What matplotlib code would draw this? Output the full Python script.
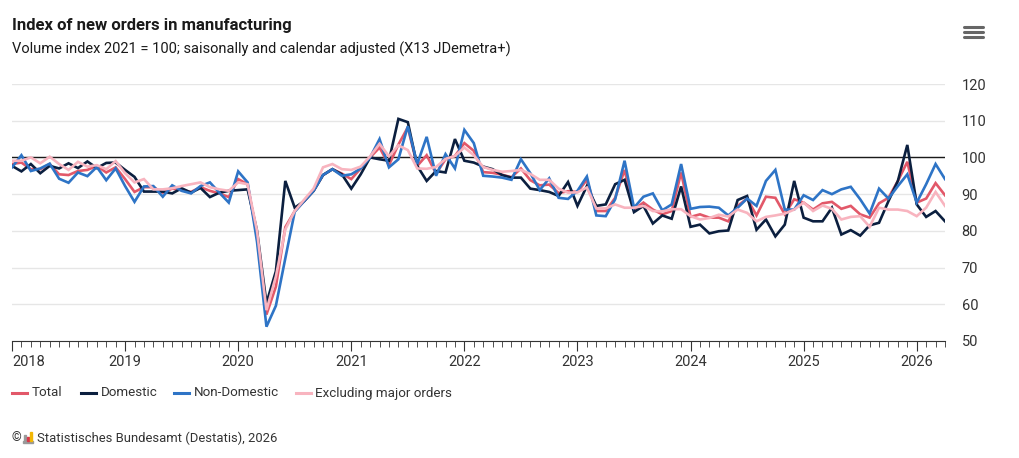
import matplotlib.pyplot as plt
import numpy as np
from matplotlib.lines import Line2D
from matplotlib.patches import Rectangle

plt.rcParams['font.family'] = ['Roboto', 'DejaVu Sans']

# monthly values, Jan 2018 .. Apr 2026 (volume index 2021 = 100)
years = ['2018', '2019', '2020', '2021', '2022', '2023', '2024', '2025', '2026']

total = [98.2, 98.6, 96.8, 96.8, 98.2, 95.4, 95.2, 96.3, 96.6, 97.7, 95.9, 97.3,
         94.1, 90.6, 91.9, 91.9, 90.4, 91.5, 91.1, 90.6, 91.9, 90.9, 90.2, 89.2,
         94.1, 92.7, 78.5, 57.2, 64.8, 81.0, 85.4, 88.1, 90.9, 95.2, 96.8, 95.6,
         94.1, 97.0, 100.0, 102.7, 97.9, 103.5, 108.2, 97.7, 100.6, 95.6, 99.5, 100.4,
         103.9, 101.8, 96.0, 95.8, 95.3, 94.6, 97.0, 93.8, 92.4, 92.6, 90.3, 90.8,
         90.6, 93.9, 85.4, 85.4, 89.0, 96.6, 85.8, 87.7, 85.8, 84.5, 85.4, 95.9,
         83.8, 84.5, 83.6, 83.6, 82.6, 86.8, 88.8, 84.2, 89.3, 89.0, 84.5, 88.6,
         87.7, 85.8, 87.5, 87.9, 86.0, 86.8, 84.5, 83.6, 87.5, 89.0, 93.6, 98.8,
         87.7, 88.8, 93.0, 89.7]

domestic = [97.7, 96.2, 98.2, 95.7, 97.7, 97.0, 98.4, 97.1, 98.9, 97.1, 98.5, 98.6,
            96.6, 94.7, 90.7, 90.7, 90.7, 90.2, 91.6, 90.4, 91.7, 89.2, 90.4, 90.9,
            91.1, 91.3, 80.0, 60.3, 69.0, 93.6, 86.3, 88.1, 90.9, 95.2, 96.8, 95.4,
            91.5, 95.4, 100.0, 99.5, 99.1, 110.5, 109.6, 97.7, 93.6, 96.3, 95.9, 105.0,
            99.1, 98.6, 97.5, 96.8, 95.2, 94.5, 94.5, 91.5, 91.1, 90.6, 89.5, 93.3,
            86.8, 92.2, 86.8, 87.2, 92.7, 93.9, 85.1, 86.8, 82.0, 84.2, 83.3, 92.1,
            81.1, 81.7, 79.3, 79.9, 80.1, 88.4, 89.5, 80.3, 83.1, 78.5, 81.7, 93.6,
            83.6, 82.6, 82.6, 86.3, 79.0, 80.2, 78.7, 81.5, 82.2, 88.1, 93.6, 103.4,
            87.2, 83.8, 85.4, 82.6]

non_domestic = [97.3, 100.6, 96.3, 97.0, 98.3, 94.2, 93.1, 95.9, 94.9, 97.4, 93.8, 97.0,
                92.2, 87.9, 92.1, 92.2, 89.3, 92.4, 90.9, 90.2, 92.2, 93.2, 90.4, 87.7,
                96.2, 93.2, 77.0, 53.9, 59.6, 72.5, 85.2, 88.1, 90.9, 95.2, 96.8, 95.0,
                95.4, 97.0, 100.0, 105.0, 97.3, 99.5, 108.5, 98.2, 105.6, 95.0, 100.9, 97.0,
                107.5, 103.9, 95.0, 94.8, 94.5, 93.9, 99.5, 95.7, 91.1, 94.3, 89.0, 88.7,
                90.9, 94.8, 84.2, 84.0, 88.6, 99.1, 86.3, 89.3, 90.2, 85.6, 87.2, 98.2,
                86.0, 86.5, 86.6, 86.3, 84.2, 86.3, 88.8, 86.8, 93.6, 96.6, 85.8, 85.8,
                89.7, 88.4, 91.1, 90.0, 91.3, 92.0, 88.6, 84.7, 91.5, 88.8, 92.2, 95.4,
                87.7, 92.7, 98.2, 94.1]

excl_major = [99.1, 99.1, 100.0, 98.4, 100.2, 98.2, 96.6, 98.8, 97.5, 97.9, 96.8, 99.0,
              95.7, 93.2, 94.1, 91.3, 91.3, 91.6, 92.2, 92.7, 93.2, 91.9, 91.3, 90.9,
              93.2, 92.7, 80.0, 58.4, 67.6, 80.4, 85.4, 88.5, 91.5, 97.3, 98.2, 96.8,
              96.6, 97.5, 100.3, 103.7, 100.3, 103.3, 102.0, 97.0, 96.9, 97.4, 99.6, 100.4,
              102.7, 100.6, 97.4, 96.6, 96.1, 96.3, 96.6, 95.5, 93.9, 93.9, 91.5, 90.4,
              90.5, 91.8, 86.1, 86.1, 87.2, 86.3, 86.3, 86.8, 85.4, 85.3, 85.9, 85.9,
              84.0, 83.1, 83.5, 84.4, 83.9, 85.8, 84.9, 82.6, 83.8, 84.2, 84.7, 85.8,
              87.7, 85.4, 86.9, 86.0, 83.1, 83.8, 84.0, 81.1, 86.3, 85.8, 85.8, 85.4,
              84.0, 86.3, 90.6, 86.8]

series = [('Total', total, '#e25869'),
          ('Domestic', domestic, '#0b1f3f'),
          ('Non-Domestic', non_domestic, '#2e74c6'),
          ('Excluding major orders', excl_major, '#f8b4bf')]

W, H = 1019, 458
fig = plt.figure(figsize=(W / 100, H / 100), dpi=100)


def fx(px):
    return px / W


def fy(py):
    return 1 - py / H


ax = fig.add_axes([fx(12), fy(341), fx(945) - fx(12), fy(84) - fy(341)])
x = np.arange(len(total))
for name, vals, col in series:
    ax.plot(x, vals, color=col, lw=1.9, zorder=3, solid_joinstyle='miter')
ax.axhline(100, color='#1a1a1a', lw=1, zorder=2)

ax.set_ylim(50, 120)
ax.set_xlim(0, len(total) - 1)
ax.set_axisbelow(True)
ax.set_yticks(range(50, 121, 10))
ax.yaxis.tick_right()
ax.tick_params(axis='y', length=0, pad=12, labelsize=10.5, colors='#333333')
ax.grid(axis='y', color='#e6e6e6', lw=1)
for s in ['top', 'left', 'right']:
    ax.spines[s].set_visible(False)
ax.spines['bottom'].set_color('#333333')

ax.set_xticks(np.arange(0, len(total), 12))
ax.set_xticklabels(years)
ax.set_xticks(np.arange(len(total)), minor=True)
ax.tick_params(axis='x', which='major', length=7, color='#333333',
               labelsize=10.5, labelcolor='#333333', pad=3)
ax.tick_params(axis='x', which='minor', length=4, color='#333333')
ax.get_xticklabels()[0].set_ha('left')

# titles
fig.text(fx(12), fy(18), 'Index of new orders in manufacturing', fontsize=12,
         fontweight='bold', color='#1a1a1a', va='top')
fig.text(fx(12), fy(42), 'Volume index 2021 = 100; saisonally and calendar adjusted (X13 JDemetra+)',
         fontsize=10.5, color='#1a1a1a', va='top')

# legend
leg_pos = [(12, 27, 32), (81, 96, 101), (174, 189, 194), (296, 311, 315)]
for (name, vals, col), (x0, x1, tx) in zip(series, leg_pos):
    fig.add_artist(Line2D([fx(x0), fx(x1)], [fy(393), fy(393)], color=col, lw=2.2,
                          transform=fig.transFigure))
    fig.text(fx(tx), fy(393), name, fontsize=9.6, color='#333333', va='center')

# source line with small logo
fig.text(fx(11), fy(438), '©', fontsize=9, color='#333333', va='center')
fig.add_artist(Rectangle((fx(23), fy(443)), fx(10), fy(441) - fy(443), color='#9a9a9a',
                         transform=fig.transFigure))
fig.add_artist(Rectangle((fx(24), fy(441)), fx(2), fy(435) - fy(441), color='#9a9a9a',
                         transform=fig.transFigure))
fig.add_artist(Rectangle((fx(27), fy(441)), fx(2), fy(437) - fy(441), color='#d9374b',
                         transform=fig.transFigure))
fig.add_artist(Rectangle((fx(30), fy(441)), fx(2), fy(432) - fy(441), color='#f2b705',
                         transform=fig.transFigure))
fig.text(fx(37), fy(438), 'Statistisches Bundesamt (Destatis), 2026', fontsize=9.4,
         color='#333333', va='center')

# menu icon
for py in [27, 32, 37]:
    fig.add_artist(Line2D([fx(964), fx(983)], [fy(py), fy(py)], color='#666666', lw=2.2,
                          solid_capstyle='round', transform=fig.transFigure))

fig.savefig('out.png', dpi=100)
